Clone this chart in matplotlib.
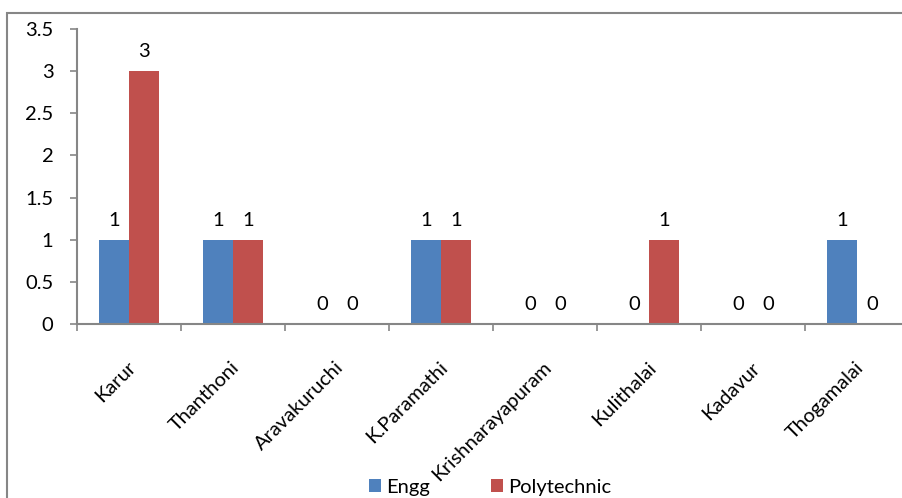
import matplotlib.pyplot as plt
import matplotlib.transforms as mtransforms
from matplotlib.patches import Rectangle
import numpy as np

plt.rcParams['font.family'] = ['Lato', 'DejaVu Sans']

# Colleges per block
blocks = ['Karur', 'Thanthoni', 'Aravakuruchi', 'K.Paramathi',
          'Krishnarayapuram', 'Kulithalai', 'Kadavur', 'Thogamalai']
engg = [1, 1, 0, 1, 0, 0, 0, 1]
polytechnic = [3, 1, 0, 1, 0, 1, 0, 0]

blue = '#4F81BD'
red = '#C0504D'
grey = '#868686'
fs = 14.5

fig = plt.figure(figsize=(9.02, 4.98), dpi=100)
W, H = 902, 498

# outer chart frame, runs off the right and bottom edges
fig.patches.append(Rectangle((7 / W, -0.1), 1.2, 1 - 13 / H + 0.1,
                             transform=fig.transFigure, fill=False,
                             edgecolor=grey, linewidth=1.5))

ax = fig.add_axes([77 / W, 1 - 324 / H, 832 / W, (324 - 29) / H])

x = np.arange(len(blocks))
w = 0.29
b1 = ax.bar(x - w / 2, engg, width=w, color=blue, label='Engg')
b2 = ax.bar(x + w / 2, polytechnic, width=w, color=red, label='Polytechnic')

for bars, vals in ((b1, engg), (b2, polytechnic)):
    for rect, v in zip(bars, vals):
        ax.annotate(str(v), (rect.get_x() + rect.get_width() / 2, v),
                    xytext=(0, 8), textcoords='offset points',
                    ha='center', va='bottom', fontsize=fs)

ax.set_xlim(-0.5, len(blocks) - 0.5)
ax.set_ylim(0, 3.5)
ax.set_yticks(np.arange(0, 3.51, 0.5))
ax.set_yticklabels(['0', '0.5', '1', '1.5', '2', '2.5', '3', '3.5'])

for s in ('top', 'right'):
    ax.spines[s].set_visible(False)
for s in ('left', 'bottom'):
    ax.spines[s].set_color(grey)
    ax.spines[s].set_linewidth(1.5)

ax.tick_params(axis='y', length=5, width=1.2, color=grey, pad=12, labelsize=fs)
ax.set_xticks(np.arange(len(blocks) + 1) - 0.5)
ax.set_xticklabels([])
ax.tick_params(axis='x', length=5, width=1.2, color=grey)

# rotated category names
offset = mtransforms.ScaledTranslation(-1.5 / 72, -25 / 72, fig.dpi_scale_trans)
trans = mtransforms.blended_transform_factory(ax.transData, ax.transAxes) + offset
for i, name in enumerate(blocks):
    ax.text(i, 0, name, transform=trans, rotation=45, rotation_mode='anchor',
            ha='right', va='top', fontsize=fs)

fig.legend(handles=[b1, b2], loc='center', bbox_to_anchor=(490 / W, 1 - 487 / H),
           ncol=2, frameon=False, fontsize=fs, handlelength=0.6,
           handleheight=0.6, columnspacing=3.0, handletextpad=0.25)

fig.savefig('out.png', dpi=100)
